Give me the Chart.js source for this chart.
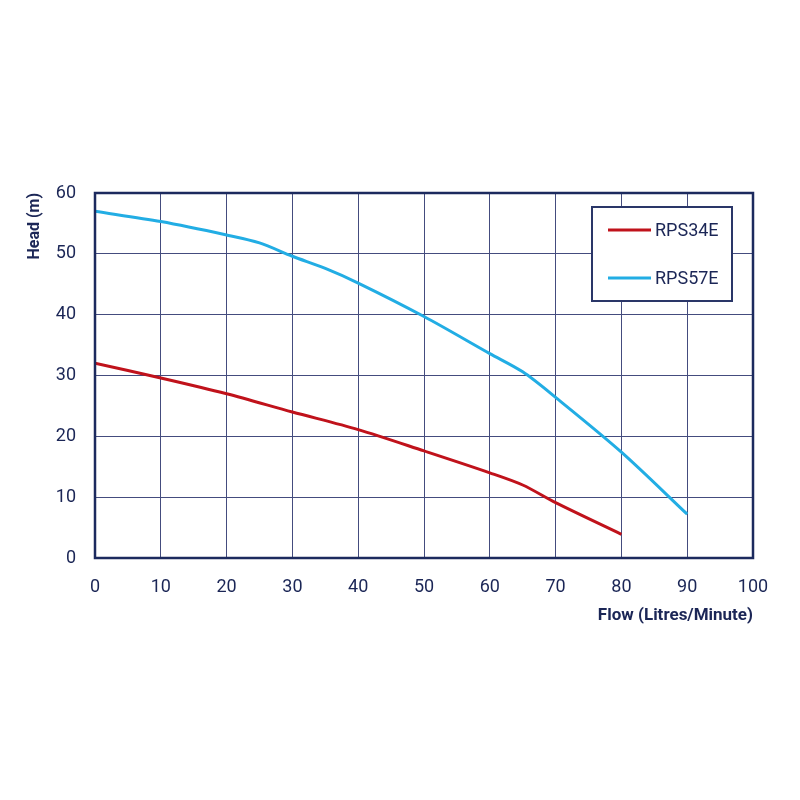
<!DOCTYPE html>
<html>
<head>
<meta charset="utf-8">
<script src="https://cdn.jsdelivr.net/npm/chart.js@4"></script>
<style>
  html, body { margin: 0; padding: 0; background: #fff; }
  #wrap { width: 800px; height: 800px; }
</style>
</head>
<body>
<div id="wrap"><canvas id="pump_chart"></canvas></div>
<script>
// pump curves
var flow34 = [0, 10, 20, 30, 40, 50, 60, 65, 70, 80];
var head34 = [32, 29.6, 27, 24, 21.1, 17.6, 14, 12, 9.1, 3.9];

var flow57 = [0, 10, 20, 25, 30, 35, 40, 50, 60, 65, 70, 80, 90];
var head57 = [57, 55.3, 53.1, 51.8, 49.6, 47.6, 45.2, 39.7, 33.6, 30.6, 26.4, 17.4, 7.2];

var seriesNames = ['RPS34E', 'RPS57E'];
var xTicks = [0, 10, 20, 30, 40, 50, 60, 70, 80, 90, 100];
var yTicks = [0, 10, 20, 30, 40, 50, 60];

var navy = '#1b2656';

function toPoints(xs, ys){
    return xs.map((x, i) => ({x: x, y: ys[i]}));
}

// frame round the plot + legend box inside it
var framePlugin = {
    id: 'frame',
    afterDraw(chart){
        const {ctx, chartArea: a} = chart;
        ctx.save();
        ctx.strokeStyle = '#1c2a5e';
        ctx.lineWidth = 2.5;
        ctx.strokeRect(a.left, a.top, a.right - a.left, a.bottom - a.top);

        // legend
        const bx = a.right - 161, by = a.top + 14, bw = 140, bh = 94;
        ctx.fillStyle = '#fff';
        ctx.fillRect(bx, by, bw, bh);
        ctx.strokeStyle = '#2a3668';
        ctx.lineWidth = 2;
        ctx.strokeRect(bx, by, bw, bh);
        ctx.font = '18px Roboto';
        ctx.textBaseline = 'middle';
        chart.data.datasets.forEach((ds, i) => {
            const y = by + 23 + i * 48;
            ctx.strokeStyle = ds.borderColor;
            ctx.lineWidth = 3;
            ctx.beginPath();
            ctx.moveTo(bx + 16, y);
            ctx.lineTo(bx + 59, y);
            ctx.stroke();
            ctx.fillStyle = navy;
            ctx.fillText(ds.label, bx + 63, y + 1);
        });
        ctx.restore();
    }
};

new Chart('pump_chart', {
    type: 'line',
    data: {
        datasets: [{
            label: seriesNames[0],
            data: toPoints(flow34, head34),
            borderColor: '#c0121b',
            borderWidth: 3,
            pointRadius: 0,
            tension: 0.3,
            fill: false
        }, {
            label: seriesNames[1],
            data: toPoints(flow57, head57),
            borderColor: '#22ade4',
            borderWidth: 3,
            pointRadius: 0,
            tension: 0.3,
            fill: false
        }]
    },
    options: {
        animation: false,
        responsive: true,
        maintainAspectRatio: false,
        layout: { padding: { left: 0, top: 193, right: 47, bottom: 142 } },
        plugins: { legend: { display: false }, tooltip: { enabled: false } },
        scales: {
            x: {
                type: 'linear',
                min: 0, max: 100,
                afterFit(scale){ scale.height = 100; },
                afterBuildTicks(scale){ scale.ticks = xTicks.map(v => ({value: v})); },
                grid: { color: '#444c7e', lineWidth: 1, drawTicks: false },
                border: { display: false },
                ticks: { color: navy, font: { family: 'Roboto', size: 18 }, padding: 19, maxRotation: 0 },
                title: {
                    display: true, text: 'Flow (Litres/Minute)', align: 'end',
                    color: navy, font: { family: 'Roboto', size: 17, weight: 'bold' },
                    padding: { top: 0, bottom: 32 }
                }
            },
            y: {
                min: 0, max: 60,
                afterFit(scale){ scale.width = 95; },
                afterBuildTicks(scale){ scale.ticks = yTicks.map(v => ({value: v})); },
                grid: { color: '#444c7e', lineWidth: 1, drawTicks: false },
                border: { display: false },
                ticks: { color: navy, font: { family: 'Roboto', size: 18 }, padding: 19 },
                title: {
                    display: true, text: 'Head (m)', align: 'end',
                    color: navy, font: { family: 'Roboto', size: 16, weight: 'bold' },
                    padding: { top: 25, bottom: 0 }
                }
            }
        }
    },
    plugins: [framePlugin]
});
</script>
</body>
</html>
